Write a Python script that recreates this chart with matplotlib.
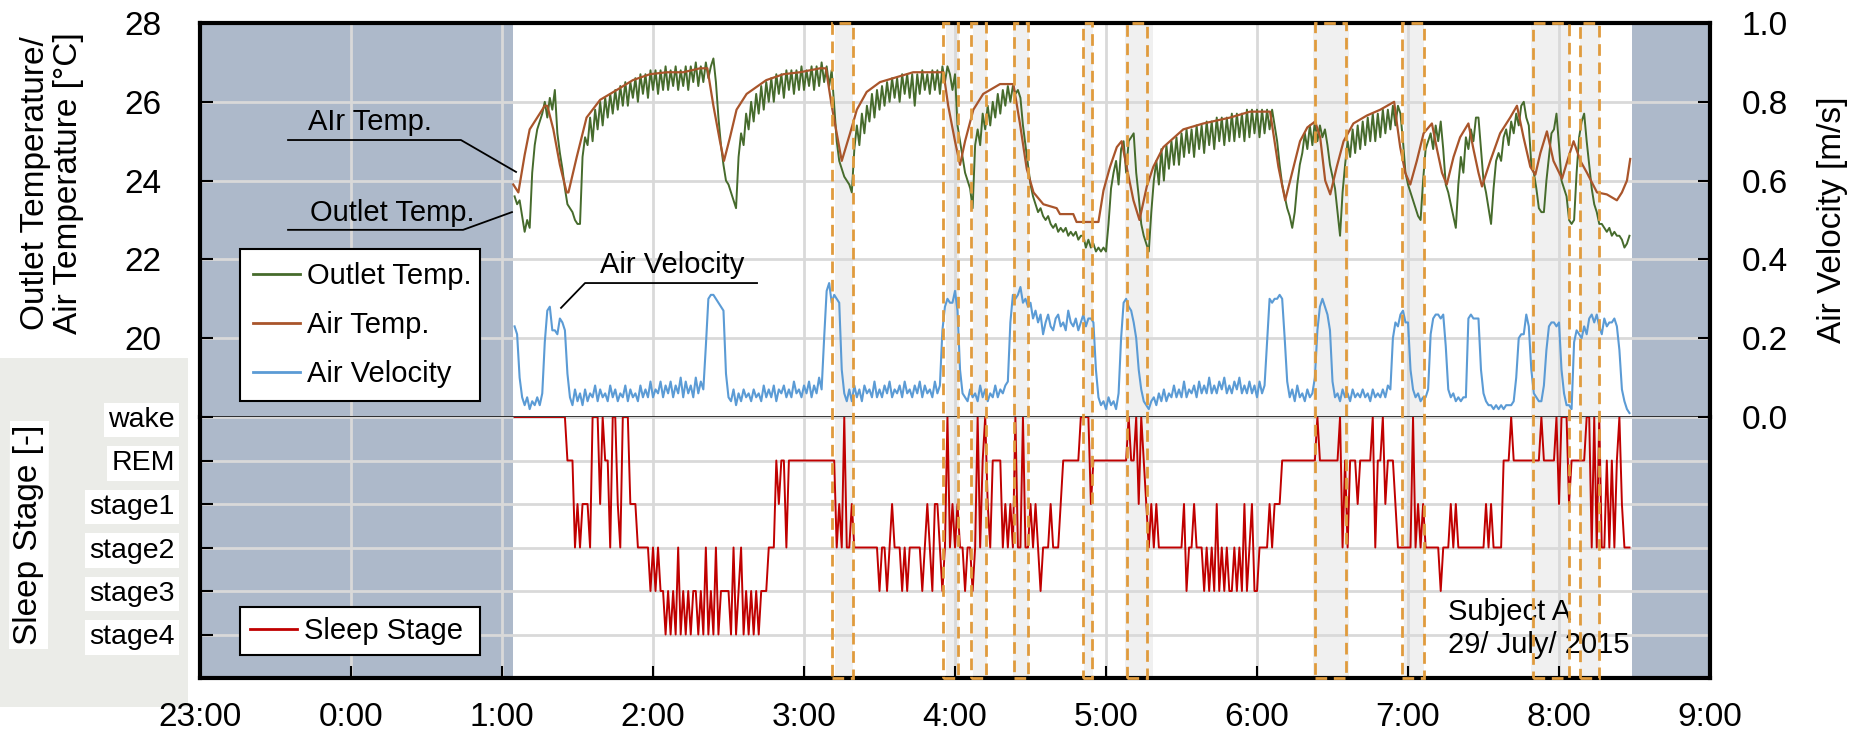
"""Outlet/air temperature, air velocity and sleep stage over one night (Subject A)."""
import numpy as np
import matplotlib
matplotlib.use("Agg")
import matplotlib.pyplot as plt
from matplotlib.lines import Line2D
from matplotlib.patches import Rectangle
from matplotlib.transforms import blended_transform_factory

plt.rcParams["font.family"] = ["Liberation Sans", "DejaVu Sans"]

# x axis: hours after 23:00. Logged series: one sample per minute, the first
# one at 1:05 (minute 5 after 1:00).
HOUR_LABELS = ["23:00", "0:00", "1:00", "2:00", "3:00", "4:00",
               "5:00", "6:00", "7:00", "8:00", "9:00"]
FIRST_MINUTE = 5
REC_START_MIN = 4.5      # recording window, minutes after 1:00
REC_END_MIN = 449.0

outlet_temp = [
    23.6, 23.4, 23.5, 23.1, 22.7, 23.0, 22.8, 24.2, 24.9, 25.3,
    25.5, 25.7, 26.0, 25.6, 26.1, 25.8, 26.3, 25.2, 24.7, 24.3,
    23.8, 23.4, 23.3, 23.2, 23.0, 22.9, 22.9, 24.6, 25.1, 24.9,
    25.6, 25.0, 25.8, 25.3, 26.0, 25.4, 26.1, 25.6, 26.2, 25.7,
    26.3, 25.8, 26.4, 25.9, 26.5, 25.9, 26.5, 26.1, 26.6, 26.0,
    26.7, 26.2, 26.7, 26.1, 26.8, 26.3, 26.8, 26.2, 26.8, 26.3,
    26.9, 26.3, 26.8, 26.4, 26.9, 26.3, 26.8, 26.4, 26.9, 26.3,
    26.9, 26.5, 27.0, 26.4, 26.9, 26.5, 27.0, 26.6, 26.9, 27.1,
    26.5, 25.6, 24.9, 24.4, 24.0, 23.9, 23.7, 23.5, 23.3, 24.6,
    25.2, 24.9, 25.7, 25.3, 26.0, 25.5, 26.2, 25.7, 26.4, 25.8,
    26.5, 26.0, 26.6, 26.0, 26.7, 26.2, 26.7, 26.1, 26.8, 26.3,
    26.8, 26.2, 26.8, 26.3, 26.9, 26.3, 26.8, 26.4, 26.9, 26.3,
    26.9, 26.4, 27.0, 26.5, 26.9, 26.4, 26.8, 25.9, 25.0, 24.5,
    24.3, 24.1, 24.0, 23.9, 23.7, 24.8, 25.4, 24.9, 25.7, 25.2,
    25.9, 25.5, 26.2, 25.6, 26.3, 25.8, 26.4, 25.9, 26.5, 26.0,
    26.6, 26.1, 26.6, 26.0, 26.7, 26.2, 26.7, 26.1, 26.7, 25.9,
    26.7, 26.2, 26.8, 26.3, 26.7, 26.2, 26.8, 26.3, 26.8, 26.2,
    26.9, 26.5, 26.9, 26.7, 26.3, 26.7, 25.4, 25.0, 24.6, 24.2,
    24.0, 23.8, 23.3, 24.9, 25.3, 24.9, 25.7, 25.3, 25.9, 25.4,
    26.0, 25.6, 26.2, 25.7, 26.3, 25.9, 26.4, 26.0, 26.4, 26.2,
    26.3, 26.1, 25.4, 24.9, 24.4, 23.9, 23.6, 23.4, 23.2, 23.3,
    23.1, 23.0, 23.1, 22.9, 22.8, 22.9, 22.7, 22.8, 22.7, 22.8,
    22.6, 22.7, 22.6, 22.7, 22.5, 22.6, 22.6, 22.3, 22.5, 22.3,
    22.4, 22.2, 22.3, 22.2, 22.3, 22.2, 22.9, 23.8, 24.2, 24.5,
    23.9, 24.8, 25.0, 24.2, 25.0, 25.1, 25.2, 24.2, 23.6, 22.9,
    22.6, 22.4, 22.2, 23.2, 24.0, 24.5, 23.9, 24.8, 24.0, 24.9,
    24.3, 25.0, 24.4, 25.1, 24.4, 25.2, 24.6, 25.3, 24.7, 25.3,
    24.6, 25.4, 24.8, 25.4, 24.7, 25.5, 24.9, 25.5, 24.8, 25.6,
    25.0, 25.6, 24.9, 25.6, 25.0, 25.7, 25.0, 25.7, 25.1, 25.7,
    25.0, 25.8, 25.1, 25.8, 25.2, 25.8, 25.1, 25.8, 25.2, 25.8,
    25.3, 25.8, 25.4, 25.0, 24.4, 23.9, 23.6, 23.3, 23.1, 22.8,
    23.2, 23.9, 24.4, 24.7, 25.2, 24.8, 25.4, 24.9, 25.5, 25.0,
    25.4, 25.1, 25.3, 24.9, 24.4, 24.1, 23.8, 23.2, 22.6, 23.7,
    24.4, 25.0, 24.6, 25.3, 24.7, 25.4, 24.8, 25.5, 24.9, 25.6,
    25.0, 25.7, 25.0, 25.7, 25.1, 25.8, 25.2, 25.8, 25.3, 25.9,
    25.4, 25.9, 25.7, 25.0, 24.2, 23.9, 23.7, 23.5, 23.3, 23.1,
    23.0, 24.0, 24.8, 25.0, 25.2, 24.8, 25.4, 25.0, 25.5, 24.8,
    23.9, 23.7, 23.4, 23.1, 22.8, 23.9, 24.6, 24.2, 25.1, 24.8,
    25.3, 25.0, 25.6, 25.6, 24.8, 24.0, 23.7, 23.3, 22.9, 23.8,
    24.5, 24.7, 24.5, 25.1, 25.3, 24.9, 25.5, 25.2, 25.7, 25.4,
    25.9, 26.0, 25.6, 25.4, 24.4, 24.2, 23.8, 23.3, 23.2, 23.2,
    24.0, 24.6, 25.2, 25.3, 25.7, 24.9, 24.0, 23.8, 23.6, 23.0,
    22.9, 23.0, 24.2, 25.1, 25.5, 25.7, 25.0, 24.4, 23.8, 23.4,
    23.2, 22.9, 22.9, 22.8, 22.7, 22.8, 22.6, 22.7, 22.6, 22.6,
    22.5, 22.3, 22.4, 22.6,
]

air_velocity = [
    0.23, 0.21, 0.10, 0.05, 0.03, 0.05, 0.02, 0.04, 0.03, 0.05,
    0.03, 0.06, 0.19, 0.27, 0.28, 0.22, 0.22, 0.21, 0.25, 0.24,
    0.22, 0.11, 0.05, 0.03, 0.07, 0.04, 0.06, 0.03, 0.07, 0.04,
    0.06, 0.05, 0.08, 0.04, 0.07, 0.05, 0.06, 0.04, 0.08, 0.05,
    0.07, 0.04, 0.06, 0.05, 0.08, 0.04, 0.07, 0.05, 0.06, 0.04,
    0.08, 0.05, 0.07, 0.05, 0.09, 0.05, 0.07, 0.06, 0.09, 0.05,
    0.08, 0.06, 0.09, 0.05, 0.08, 0.06, 0.10, 0.05, 0.09, 0.06,
    0.08, 0.05, 0.10, 0.06, 0.09, 0.07, 0.18, 0.30, 0.31, 0.31,
    0.30, 0.29, 0.28, 0.27, 0.11, 0.05, 0.04, 0.07, 0.03, 0.06,
    0.04, 0.07, 0.05, 0.06, 0.04, 0.07, 0.05, 0.06, 0.04, 0.08,
    0.05, 0.07, 0.05, 0.08, 0.04, 0.07, 0.06, 0.08, 0.05, 0.07,
    0.05, 0.09, 0.06, 0.07, 0.05, 0.08, 0.06, 0.09, 0.05, 0.08,
    0.06, 0.10, 0.07, 0.20, 0.32, 0.34, 0.29, 0.31, 0.30, 0.29,
    0.12, 0.06, 0.04, 0.07, 0.04, 0.08, 0.05, 0.07, 0.04, 0.08,
    0.06, 0.07, 0.05, 0.09, 0.05, 0.07, 0.05, 0.08, 0.06, 0.09,
    0.05, 0.07, 0.06, 0.08, 0.05, 0.09, 0.06, 0.07, 0.05, 0.08,
    0.06, 0.09, 0.05, 0.08, 0.06, 0.07, 0.05, 0.09, 0.06, 0.08,
    0.22, 0.28, 0.30, 0.29, 0.29, 0.32, 0.27, 0.12, 0.06, 0.05,
    0.04, 0.07, 0.05, 0.06, 0.04, 0.08, 0.05, 0.07, 0.04, 0.06,
    0.05, 0.08, 0.05, 0.07, 0.06, 0.08, 0.09, 0.24, 0.31, 0.30,
    0.31, 0.33, 0.29, 0.30, 0.28, 0.29, 0.25, 0.27, 0.24, 0.26,
    0.21, 0.24, 0.26, 0.23, 0.22, 0.25, 0.26, 0.23, 0.24, 0.22,
    0.27, 0.24, 0.23, 0.25, 0.22, 0.24, 0.26, 0.23, 0.25, 0.25,
    0.24, 0.12, 0.05, 0.03, 0.04, 0.02, 0.05, 0.03, 0.04, 0.02,
    0.06, 0.20, 0.29, 0.30, 0.28, 0.27, 0.24, 0.20, 0.12, 0.07,
    0.04, 0.03, 0.02, 0.04, 0.05, 0.03, 0.06, 0.04, 0.07, 0.04,
    0.06, 0.05, 0.08, 0.05, 0.07, 0.05, 0.09, 0.05, 0.07, 0.06,
    0.08, 0.05, 0.09, 0.06, 0.08, 0.06, 0.10, 0.06, 0.08, 0.06,
    0.09, 0.07, 0.10, 0.06, 0.08, 0.06, 0.09, 0.07, 0.10, 0.06,
    0.08, 0.06, 0.09, 0.06, 0.08, 0.05, 0.09, 0.06, 0.08, 0.19,
    0.30, 0.29, 0.30, 0.30, 0.31, 0.30, 0.20, 0.09, 0.05, 0.07,
    0.04, 0.08, 0.05, 0.06, 0.04, 0.07, 0.05, 0.06, 0.10, 0.22,
    0.28, 0.30, 0.28, 0.26, 0.22, 0.09, 0.05, 0.06, 0.04, 0.07,
    0.05, 0.06, 0.04, 0.07, 0.05, 0.06, 0.05, 0.07, 0.05, 0.06,
    0.04, 0.07, 0.05, 0.06, 0.05, 0.07, 0.05, 0.08, 0.07, 0.20,
    0.24, 0.23, 0.26, 0.27, 0.24, 0.24, 0.12, 0.07, 0.05, 0.06,
    0.04, 0.05, 0.05, 0.07, 0.21, 0.25, 0.26, 0.26, 0.25, 0.26,
    0.18, 0.07, 0.05, 0.06, 0.04, 0.05, 0.04, 0.05, 0.05, 0.25,
    0.26, 0.25, 0.25, 0.25, 0.12, 0.06, 0.04, 0.03, 0.03, 0.02,
    0.03, 0.02, 0.03, 0.02, 0.03, 0.03, 0.03, 0.04, 0.10, 0.20,
    0.21, 0.21, 0.26, 0.23, 0.12, 0.06, 0.05, 0.04, 0.04, 0.08,
    0.17, 0.23, 0.24, 0.24, 0.23, 0.24, 0.12, 0.06, 0.03, 0.03,
    0.02, 0.19, 0.22, 0.21, 0.20, 0.23, 0.21, 0.25, 0.26, 0.24,
    0.26, 0.23, 0.21, 0.25, 0.23, 0.24, 0.24, 0.25, 0.23, 0.17,
    0.07, 0.04, 0.02, 0.01,
]

# 0 = wake, 1 = REM, 2..5 = stage1..stage4
sleep_stage = [
    0, 0, 0, 0, 0, 0, 0, 0, 0, 0,
    0, 0, 0, 0, 0, 0, 0, 0, 0, 0,
    0, 1, 1, 1, 3, 2, 3, 2, 2, 2,
    3, 0, 0, 0, 2, 0, 1, 1, 3, 0,
    0, 2, 3, 0, 0, 0, 2, 2, 2, 3,
    3, 3, 3, 3, 4, 3, 4, 3, 4, 4,
    5, 4, 5, 4, 5, 3, 5, 4, 5, 4,
    5, 4, 4, 5, 4, 5, 3, 5, 4, 5,
    3, 5, 4, 4, 4, 4, 5, 3, 5, 4,
    3, 5, 4, 5, 4, 5, 4, 5, 4, 4,
    4, 3, 3, 3, 1, 2, 1, 1, 3, 1,
    1, 1, 1, 1, 1, 1, 1, 1, 1, 1,
    1, 1, 1, 1, 1, 1, 1, 1, 3, 2,
    3, 0, 3, 3, 2, 3, 3, 3, 3, 3,
    3, 3, 3, 3, 3, 4, 3, 3, 4, 3,
    2, 3, 3, 3, 4, 3, 4, 3, 3, 3,
    3, 3, 4, 3, 2, 3, 4, 2, 2, 3,
    4, 3, 0, 3, 2, 3, 2, 3, 3, 4,
    3, 3, 4, 3, 0, 3, 1, 0, 2, 3,
    1, 1, 1, 1, 3, 2, 3, 2, 3, 0,
    3, 3, 0, 3, 3, 2, 3, 2, 3, 4,
    3, 3, 3, 2, 3, 3, 3, 2, 1, 1,
    1, 1, 1, 1, 1, 0, 0, 0, 0, 2,
    1, 1, 1, 1, 1, 1, 1, 1, 1, 1,
    1, 1, 1, 1, 0, 1, 1, 0, 2, 0,
    1, 2, 3, 2, 3, 2, 3, 3, 3, 3,
    3, 3, 3, 3, 3, 3, 2, 4, 3, 3,
    2, 3, 3, 3, 4, 3, 4, 3, 4, 2,
    4, 3, 4, 3, 4, 4, 3, 4, 3, 4,
    2, 4, 3, 2, 4, 4, 3, 3, 3, 3,
    2, 3, 2, 2, 2, 1, 1, 1, 1, 1,
    1, 1, 1, 1, 1, 1, 1, 1, 1, 0,
    1, 1, 1, 1, 1, 1, 1, 1, 0, 3,
    1, 3, 1, 1, 1, 2, 1, 1, 1, 1,
    1, 0, 3, 1, 1, 0, 2, 1, 1, 1,
    2, 3, 3, 3, 3, 3, 3, 0, 3, 2,
    3, 2, 3, 3, 3, 3, 3, 3, 4, 3,
    3, 3, 2, 3, 2, 3, 3, 3, 3, 3,
    3, 3, 3, 3, 3, 3, 2, 3, 2, 3,
    3, 3, 3, 1, 1, 1, 0, 1, 1, 1,
    1, 1, 1, 1, 1, 1, 1, 1, 0, 1,
    1, 1, 1, 1, 0, 2, 0, 0, 0, 2,
    1, 1, 1, 1, 1, 1, 0, 0, 3, 0,
    3, 0, 3, 3, 1, 3, 1, 3, 1, 0,
    2, 3, 3, 3,
]
STAGE_NAMES = ["wake", "REM", "stage1", "stage2", "stage3", "stage4"]

# air temperature logger (coarser): (minutes after 1:00, degC)
air_temp_readings = [
    (4.5, 23.9), (6.5, 23.7), (9, 24.65), (11, 25.3), (14, 25.6), (17, 25.9),
    (18, 25.9), (20.4, 25.3), (23, 24.4), (25.7, 23.7), (26.4, 23.7),
    (29.7, 24.6), (33.6, 25.6), (39, 26.05), (45.6, 26.3), (52, 26.55),
    (58.8, 26.7), (65.4, 26.75), (72, 26.75), (78.7, 26.85), (81.6, 26.85),
    (84, 25.9), (86.6, 25.0), (88.2, 24.5), (90.6, 25.1), (93.2, 25.8),
    (97.2, 26.2), (105, 26.55), (111.8, 26.7), (118.4, 26.75), (126.4, 26.85),
    (128.7, 26.85), (131, 25.9), (133, 25.2), (135, 24.5), (138.3, 25.2),
    (141, 25.8), (144.9, 26.25), (150.2, 26.5), (163.4, 26.75), (175.4, 26.75),
    (177.3, 25.9), (180, 25.0), (182, 24.4), (184, 25.0), (187.3, 25.8),
    (191.2, 26.2), (197.9, 26.45), (203.2, 26.45), (205.8, 25.45),
    (208.5, 24.3), (211.2, 23.7), (215.1, 23.4), (220.4, 23.3), (221.7, 23.15),
    (227, 23.15), (228.3, 22.95), (237, 22.95), (239, 23.75), (241.6, 24.35),
    (244.3, 24.85), (246.2, 25.0), (248.2, 24.35), (250.9, 23.5), (253.3, 23.0),
    (256.2, 23.85), (258.8, 24.35), (262.8, 24.85), (270.7, 25.3),
    (278.7, 25.45), (289.3, 25.6), (297.2, 25.75), (305.2, 25.75),
    (308.5, 24.35), (311.2, 23.5), (317.1, 25.0), (320, 25.35), (323.1, 25.5),
    (325.1, 25.1), (327.1, 24.0), (329.1, 23.65), (331.7, 24.35), (334.4, 25.0),
    (338.3, 25.45), (343.6, 25.65), (349, 25.8), (354.5, 26.0), (355.6, 25.45),
    (356.9, 24.85), (358.9, 24.2), (360.9, 23.9), (363.5, 24.5), (366.2, 25.2),
    (369.5, 25.45), (371.5, 24.8), (373.5, 24.2), (375.4, 23.9), (378.1, 24.6),
    (380.7, 25.1), (384, 25.45), (386, 24.8), (388, 24.2), (389.4, 23.85),
    (392.7, 24.5), (396.6, 25.2), (400.6, 25.6), (403.3, 25.9), (405.9, 25.1),
    (408.6, 24.35), (410.6, 24.15), (412.6, 24.7), (415.2, 25.25),
    (417.8, 24.5), (421.2, 24.05), (423.8, 24.6), (425.8, 25.0), (428.5, 24.5),
    (431.1, 24.2), (435.1, 23.7), (439, 23.65), (443, 23.5), (445, 23.7),
    (447, 24.0), (448.3, 24.55),
]

# periods of interest, minutes after 1:00: dashed frames and grey bands
framed_periods = [
    (131.0, 139.4), (175.4, 181.3), (186.3, 192.3), (203.4, 209.0),
    (230.7, 234.3), (248.2, 256.2), (323.1, 335.4), (357.8, 366.2),
    (409.5, 423.8), (428.4, 435.7),
]
grey_bands = [
    (132.3, 139.6), (176.4, 181.7), (187.3, 192.6), (202.9, 209.5),
    (231.3, 234.7), (247.6, 258.6), (322.4, 336.4), (358.6, 366.2),
    (408.8, 424.5), (428.4, 436.1),
]

GREEN = "#466b2c"
BROWN = "#a9552b"
BLUE = "#5b9bd5"
RED = "#c00000"
ORANGE = "#e09b3d"
SHADE = "#adb9ca"
BAND = "#f0f0f0"
GRID = "#d9d9d9"


def to_hours(minutes_after_1am):
    """Minutes after 1:00 -> hours after 23:00 (x axis units)."""
    return 2.0 + np.asarray(minutes_after_1am, dtype=float) / 60.0


n = len(outlet_temp)
assert len(air_velocity) == n and len(sleep_stage) == n, \
    (n, len(air_velocity), len(sleep_stage))
x = to_hours(np.arange(FIRST_MINUTE, FIRST_MINUTE + n))
air_min, air_val = zip(*air_temp_readings)

W, H = 1854, 735
left, right = 200 / W, 1710 / W
y_top, y_mid, y_bot = 1 - 23 / H, 1 - 417 / H, 1 - 678 / H

fig = plt.figure(figsize=(W / 100, H / 100), dpi=100)
# light panel behind the sleep stage labels
fig.patches.append(Rectangle((0, 1 - 707 / H), 188 / W, 349 / H,
                             transform=fig.transFigure, color="#ebece8",
                             lw=0, zorder=-1))

ax_t = fig.add_axes([left, y_mid, right - left, y_top - y_mid])
ax_b = fig.add_axes([left, y_bot, right - left, y_mid - y_bot], sharex=ax_t)
ax_v = ax_t.twinx()

for ax in (ax_t, ax_b):
    ax.axvspan(0, to_hours(REC_START_MIN), color=SHADE, lw=0)
    ax.axvspan(to_hours(REC_END_MIN), 10, color=SHADE, lw=0)
    for a, b in grey_bands:
        ax.axvspan(to_hours(a), to_hours(b), color=BAND, lw=0)
    ax.grid(True, color=GRID, lw=2)

ax_t.plot(x, outlet_temp, color=GREEN, lw=1.4)
ax_t.plot(to_hours(air_min), air_val, color=BROWN, lw=1.6)
ax_v.plot(x, air_velocity, color=BLUE, lw=1.5)
ax_b.plot(x, sleep_stage, color=RED, lw=1.4)

# dashed frames run through both panels
trans = blended_transform_factory(ax_v.transData, ax_v.transAxes)
depth = (y_mid - y_bot) / (y_top - y_mid)
for a, b in framed_periods:
    x0, x1 = to_hours(a), to_hours(b)
    ax_v.add_patch(Rectangle((x0, -depth), x1 - x0, 1 + depth, transform=trans,
                             fill=False, ec=ORANGE, lw=2,
                             ls=(0, (4.2, 2.4)), clip_on=False, zorder=5))

ax_t.set_xlim(0, 10)
ax_t.set_xticks(range(11))
ax_t.set_ylim(18, 28)
ax_t.set_yticks([20, 22, 24, 26, 28])
ax_v.set_ylim(0, 1)
ax_v.set_yticks(np.linspace(0, 1, 6))
ax_v.set_yticklabels([f"{v:.1f}" for v in np.linspace(0, 1, 6)])
ax_b.set_ylim(6, 0)
ax_b.set_yticks(range(6))
ax_b.set_yticklabels(STAGE_NAMES)
ax_b.set_xticklabels(HOUR_LABELS)

tick = dict(direction="in", length=9, width=1.5)
ax_t.tick_params(axis="x", length=0, labelbottom=False)
ax_t.tick_params(axis="y", labelsize=24, pad=28, **tick)
ax_v.tick_params(axis="y", labelsize=24, pad=23, **tick)
ax_b.tick_params(axis="x", labelsize=24, pad=17, **tick)
ax_b.tick_params(axis="y", labelsize=20.5, pad=18, **tick)
for lab in ax_b.get_yticklabels():
    lab.set_bbox(dict(facecolor="white", edgecolor="none", pad=3))

for sp in ("top", "left"):
    ax_t.spines[sp].set_linewidth(3)
ax_t.spines["right"].set_visible(False)
ax_t.spines["bottom"].set_color("#222222")
ax_t.spines["bottom"].set_linewidth(2)
for sp in ("top", "left", "bottom"):
    ax_v.spines[sp].set_visible(False)
ax_v.spines["right"].set_linewidth(3)
ax_b.spines["top"].set_visible(False)
for sp in ("left", "right", "bottom"):
    ax_b.spines[sp].set_linewidth(3)

# call-outs
ax_t.plot([0.583, 1.728, 2.093], [25.03, 25.03, 24.22], color="black", lw=1.3)
ax_t.text(0.715, 25.49, "AIr Temp.", fontsize=21, va="center")
ax_t.plot([0.583, 1.742, 2.066], [22.75, 22.75, 23.2], color="black", lw=1.3)
ax_t.text(0.728, 23.18, "Outlet Temp.", fontsize=21, va="center")
ax_v.plot([2.391, 2.55, 3.689], [0.277, 0.34, 0.34], color="black", lw=1.3)
ax_v.text(2.649, 0.386, "Air Velocity", fontsize=21, va="center")

ax_b.text(8.265, 4.48, "Subject A", fontsize=21, va="center")
ax_b.text(8.265, 5.24, "29/ July/ 2015", fontsize=21, va="center")

leg_kw = dict(loc="upper left", mode="expand", borderaxespad=0,
              bbox_transform=fig.transFigure, fontsize=21, fancybox=False,
              framealpha=1, edgecolor="black", handlelength=1.6,
              handletextpad=0.25)
leg1 = ax_v.legend([Line2D([], [], color=c, lw=2) for c in (GREEN, BROWN, BLUE)],
                   ["Outlet Temp.", "Air Temp.", "Air Velocity"],
                   bbox_to_anchor=(240 / W, 1 - 400 / H, 240 / W, 151 / H),
                   borderpad=0.45, labelspacing=0.72, **leg_kw)
leg1.get_frame().set_linewidth(1.5)
leg2 = ax_b.legend([Line2D([], [], color=RED, lw=2)], ["Sleep Stage"],
                   bbox_to_anchor=(240 / W, 1 - 656 / H, 240 / W, 49 / H),
                   borderpad=0.35, **leg_kw)
leg2.get_frame().set_linewidth(1.5)

fig.text(52 / W, 1 - 183 / H, "Outlet Temperature/\nAir Temperature [°C]",
         rotation=90, ha="center", va="center", fontsize=24, linespacing=1.05)
fig.text(1832 / W, 1 - 220 / H, "Air Velocity [m/s]", rotation=90,
         ha="center", va="center", fontsize=24)
fig.text(29 / W, 1 - 535 / H, "Sleep Stage [-]", rotation=90, ha="center",
         va="center", fontsize=24,
         bbox=dict(facecolor="white", edgecolor="none", pad=3))

fig.savefig("out.png", dpi=100)
